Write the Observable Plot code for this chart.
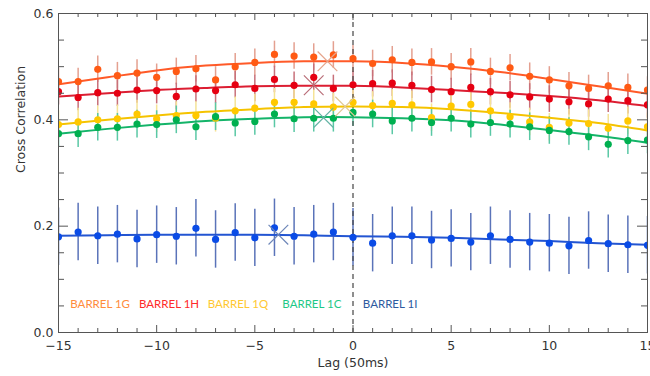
<!DOCTYPE html>
<html><head><meta charset="utf-8">
<script src="https://cdn.jsdelivr.net/npm/d3@7"></script>
<script src="https://cdn.jsdelivr.net/npm/@observablehq/plot@0.6"></script>
<style>body{margin:0;background:#fff}</style>
</head><body><div id="chart"></div>
<script>
const series = ["BARREL 1G", "BARREL 1H", "BARREL 1Q", "BARREL 1C", "BARREL 1I"];
const lags = [-15,-14,-13,-12,-11,-10,-9,-8,-7,-6,-5,-4,-3,-2,-1,0,1,2,3,4,5,6,7,8,9,10,11,12,13,14,15];

const cc1G = [0.472,0.472,0.495,0.483,0.488,0.480,0.491,0.496,0.475,0.500,0.508,0.523,0.520,0.518,0.522,0.515,
              0.506,0.513,0.508,0.509,0.500,0.509,0.491,0.498,0.482,0.475,0.464,0.459,0.464,0.461,0.456];
const cc1H = [0.453,0.442,0.451,0.450,0.456,0.455,0.444,0.458,0.455,0.466,0.459,0.476,0.465,0.480,0.459,0.466,
              0.468,0.469,0.465,0.457,0.453,0.461,0.453,0.447,0.443,0.439,0.434,0.430,0.439,0.436,0.428];
const cc1Q = [0.391,0.396,0.400,0.402,0.411,0.402,0.408,0.408,0.403,0.417,0.422,0.433,0.433,0.430,0.424,0.433,
              0.427,0.431,0.428,0.404,0.426,0.429,0.417,0.406,0.396,0.386,0.394,0.393,0.384,0.398,0.387];
const cc1C = [0.374,0.374,0.386,0.386,0.392,0.391,0.400,0.387,0.406,0.394,0.397,0.411,0.402,0.403,0.403,0.414,
              0.411,0.398,0.403,0.395,0.403,0.392,0.395,0.392,0.387,0.380,0.378,0.368,0.354,0.361,0.362];
const cc1I = [0.180,0.189,0.182,0.185,0.176,0.184,0.181,0.196,0.175,0.188,0.178,0.197,0.181,0.185,0.189,0.179,
              0.168,0.182,0.182,0.174,0.177,0.170,0.182,0.175,0.170,0.168,0.163,0.173,0.167,0.165,0.164];
const errHalf = [0.025, 0.025, 0.026, 0.026, 0.054];

const fitLags = [-15,-12.5,-10,-7.5,-5,-2.5,0,2.5,5,7.5,10,12.5,15];
const fit1G = [0.467,0.480,0.493,0.502,0.507,0.510,0.510,0.507,0.500,0.490,0.477,0.463,0.449];
const fit1H = [0.444,0.450,0.456,0.460,0.463,0.464,0.464,0.461,0.456,0.451,0.445,0.437,0.426];
const fit1Q = [0.391,0.400,0.408,0.415,0.420,0.424,0.425,0.424,0.420,0.413,0.404,0.394,0.380];
const fit1C = [0.374,0.383,0.391,0.398,0.402,0.405,0.405,0.403,0.399,0.391,0.381,0.370,0.357];
const fit1I = [0.182,0.183,0.184,0.184,0.184,0.183,0.181,0.180,0.178,0.175,0.172,0.168,0.165];

const peakLag = [-1.3, -2.0, -0.4, -1.5, -3.8];
const peakCC = [0.510, 0.465, 0.425, 0.404, 0.184];

const xMajor = [-15,-10,-5,0,5,10,15];
const yMajor = [0, 0.2, 0.4, 0.6];
const yMinor = [0.05,0.1,0.15,0.25,0.3,0.35,0.45,0.5,0.55];

// styles
const dotColors = ["#ff5a14","#e60012","#ffc800","#00b050","#0a4be6"];
const lineColors = ["#ff5a28","#dc1e32","#f5c300","#14b469","#2355d2"];
const barColors = ["#e4a090","#c8707a","#f5e396","#5ac8a5","#5a73b9"];
const xColors = ["#e6a58c","#b96e78","#e1c896","#64b4a5","#6e87b9"];
const legendColors = ["#ff8c3c","#ff2a2a","#ffc832","#1ec887","#2d5aa0"];
const legendX = [-14.4, -10.9, -7.4, -3.6, 0.5];

const values = [cc1G, cc1H, cc1Q, cc1C, cc1I];
const fitValues = [fit1G, fit1H, fit1Q, fit1C, fit1I];
const rows = [];
series.forEach((s, i) => lags.forEach((l, j) => rows.push({s, i, lag: l, cc: values[i][j], lo: values[i][j] - errHalf[i], hi: values[i][j] + errHalf[i]})));
const fits = [];
series.forEach((s, i) => fitLags.forEach((l, j) => fits.push({s, i, lag: l, cc: fitValues[i][j]})));
const peaks = series.map((s, i) => ({s, i, lag: peakLag[i], cc: peakCC[i]}));

const W = 650, H = 376, mL = 58, mR = 3, mT = 13, mB = 44;
const pw = W - mL - mR, ph = H - mT - mB;
const axisFont = "DejaVu Sans, sans-serif";
const tickCol = "#555";
const xMinor = lags.filter(l => !xMajor.includes(l));

const chart = Plot.plot({
  width: W, height: H, marginLeft: mL, marginRight: mR, marginTop: mT, marginBottom: mB,
  x: {domain: [-15, 15]},
  y: {domain: [0, 0.6]},
  color: {type: "identity"},
  style: {background: "#fff"},
  marks: [
    Plot.ruleX(rows, {x: "lag", y1: "lo", y2: "hi", stroke: d => barColors[d.i], strokeWidth: 1.5, clip: true}),
    Plot.ruleX([0], {stroke: "#444", strokeDasharray: "5,4", strokeWidth: 1.2}),
    Plot.line(fits, {x: "lag", y: "cc", z: "s", stroke: d => lineColors[d.i], strokeWidth: 2, curve: "natural", clip: true}),
    Plot.dot(rows, {x: "lag", y: "cc", r: 3.6, fill: d => dotColors[d.i], clip: true}),
    Plot.dot(peaks, {x: "lag", y: "cc", symbol: "times", r: 9, stroke: d => xColors[d.i], strokeWidth: 1.2}),
    Plot.text(series, {x: (d, i) => legendX[i], y: () => 0.053, text: d => d, fill: (d, i) => legendColors[i], textAnchor: "start", fontSize: 11.5, fontFamily: "Lato, sans-serif"}),
    // inward ticks
    Plot.ruleX(xMajor, {insetTop: ph - 7, stroke: tickCol}),
    Plot.ruleX(xMinor, {insetTop: ph - 4, stroke: tickCol}),
    Plot.ruleX(xMajor, {insetBottom: ph - 7, stroke: tickCol}),
    Plot.ruleX(xMinor, {insetBottom: ph - 4, stroke: tickCol}),
    Plot.ruleY(yMajor, {insetRight: pw - 10, stroke: tickCol}),
    Plot.ruleY(yMinor, {insetRight: pw - 6, stroke: tickCol}),
    Plot.ruleY(yMajor, {insetLeft: pw - 10, stroke: tickCol}),
    Plot.ruleY(yMinor, {insetLeft: pw - 6, stroke: tickCol}),
    Plot.axisX(xMajor, {anchor: "bottom", tickSize: 0, tickPadding: 9, tickFormat: d3.format("d"), fontSize: 12.5, fontFamily: axisFont, fill: "#333", label: null}),
    Plot.axisY(yMajor, {anchor: "left", tickSize: 0, tickPadding: 5, tickFormat: d3.format(".1f"), fontSize: 12.5, fontFamily: axisFont, fill: "#333", label: null}),
    Plot.text(["Lag (50ms)"], {frameAnchor: "bottom", dy: 34, text: d => d, fontSize: 12.5, fontFamily: axisFont, fill: "#333"}),
    Plot.text(["Cross Correlation"], {frameAnchor: "left", dx: -38, rotate: -90, text: d => d, fontSize: 12.5, fontFamily: axisFont, fill: "#333"}),
    Plot.frame({stroke: "#555"})
  ]
});
document.getElementById("chart").appendChild(chart);
</script>
</body></html>
